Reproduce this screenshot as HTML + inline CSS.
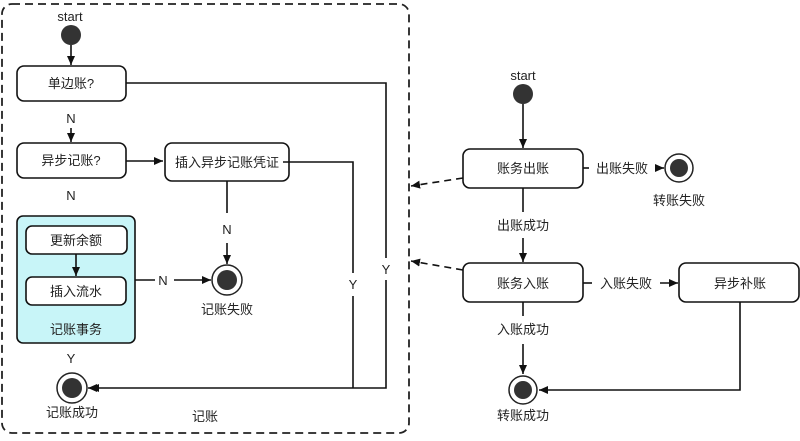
<!DOCTYPE html>
<html><head><meta charset="utf-8"><style>
html,body{margin:0;padding:0;background:#fff;}
svg text{font-family:"Liberation Sans","Noto Sans CJK SC",sans-serif;font-size:13px;fill:#222;text-anchor:middle;}
</style></head><body>
<svg width="800" height="436" viewBox="0 0 800 436" xmlns="http://www.w3.org/2000/svg">
<defs>
<marker id="a" markerWidth="10" markerHeight="10" refX="9" refY="5" orient="auto" markerUnits="userSpaceOnUse"><path d="M0,1 L9,5 L0,9 z" fill="#111"/></marker>
</defs>
<g stroke="#222" stroke-width="1.8" fill="none">
<rect x="2" y="4" width="407" height="429" rx="10" stroke-dasharray="8,5"/>
</g>
<text x="70" y="21">start</text>
<circle cx="71" cy="35" r="10" fill="#333"/>
<g stroke="#111" stroke-width="1.6" fill="none">
<line x1="71" y1="45" x2="71" y2="65" marker-end="url(#a)"/>
<rect x="17" y="66" width="109" height="35" rx="7" fill="#fff"/>
<line x1="71" y1="128" x2="71" y2="142" marker-end="url(#a)"/>
<rect x="17" y="143" width="109" height="35" rx="7" fill="#fff"/>
<line x1="126" y1="161" x2="163" y2="161" marker-end="url(#a)"/>
<rect x="165" y="143" width="124" height="38" rx="7" fill="#fff"/>
<rect x="17" y="216" width="118" height="127" rx="6" fill="#c8f5f8"/>
<rect x="26" y="226" width="101" height="28" rx="6" fill="#fff"/>
<line x1="76" y1="254" x2="76" y2="276" marker-end="url(#a)"/>
<rect x="26" y="277" width="100" height="28" rx="6" fill="#fff"/>
<line x1="135" y1="280" x2="155" y2="280"/>
<line x1="174" y1="280" x2="211" y2="280" marker-end="url(#a)"/>
<line x1="227" y1="181" x2="227" y2="213"/>
<line x1="227" y1="243" x2="227" y2="264" marker-end="url(#a)"/>
<polyline points="126,83 386,83 386,258"/>
<polyline points="386,280 386,388 88,388" marker-end="url(#a)"/>
<line x1="98" y1="388" x2="90" y2="388" marker-end="url(#a)"/>
<polyline points="283,162 353,162 353,273"/>
<line x1="353" y1="296" x2="353" y2="388"/>
</g>
<circle cx="227" cy="280" r="15" fill="#fff" stroke="#222" stroke-width="1.5"/>
<circle cx="227" cy="280" r="10" fill="#333"/>
<circle cx="72" cy="388" r="15" fill="#fff" stroke="#222" stroke-width="1.5"/>
<circle cx="72" cy="388" r="10" fill="#333"/>
<text x="71" y="88">单边账?</text>
<text x="71" y="123">N</text>
<text x="71" y="165">异步记账?</text>
<text x="71" y="200">N</text>
<text x="227" y="167">插入异步记账凭证</text>
<text x="76" y="245">更新余额</text>
<text x="76" y="296">插入流水</text>
<text x="76" y="334">记账事务</text>
<text x="71" y="363">Y</text>
<text x="163" y="285">N</text>
<text x="227" y="234">N</text>
<text x="227" y="314">记账失败</text>
<text x="386" y="274">Y</text>
<text x="353" y="289">Y</text>
<text x="72" y="417">记账成功</text>
<text x="205" y="421">记账</text>

<text x="523" y="80">start</text>
<circle cx="523" cy="94" r="10" fill="#333"/>
<g stroke="#111" stroke-width="1.6" fill="none">
<line x1="523" y1="104" x2="523" y2="148" marker-end="url(#a)"/>
<rect x="463" y="149" width="120" height="39" rx="7" fill="#fff"/>
<line x1="523" y1="188" x2="523" y2="212"/>
<line x1="523" y1="238" x2="523" y2="262" marker-end="url(#a)"/>
<rect x="463" y="263" width="120" height="39" rx="7" fill="#fff"/>
<line x1="523" y1="302" x2="523" y2="316"/>
<line x1="523" y1="344" x2="523" y2="374" marker-end="url(#a)"/>
<line x1="463" y1="178" x2="411" y2="186" stroke-dasharray="7,5" marker-end="url(#a)"/>
<line x1="463" y1="270" x2="411" y2="261" stroke-dasharray="7,5" marker-end="url(#a)"/>
<line x1="583" y1="168" x2="589" y2="168"/>
<line x1="656" y1="168" x2="664" y2="168" marker-end="url(#a)"/>
<line x1="583" y1="283" x2="592" y2="283"/>
<line x1="660" y1="283" x2="678" y2="283" marker-end="url(#a)"/>
<rect x="679" y="263" width="120" height="39" rx="7" fill="#fff"/>
<polyline points="740,302 740,390 539,390" marker-end="url(#a)"/>
</g>
<circle cx="679" cy="168" r="14" fill="#fff" stroke="#222" stroke-width="1.5"/>
<circle cx="679" cy="168" r="9" fill="#333"/>
<circle cx="523" cy="390" r="14" fill="#fff" stroke="#222" stroke-width="1.5"/>
<circle cx="523" cy="390" r="9" fill="#333"/>
<text x="523" y="173">账务出账</text>
<text x="622" y="173">出账失败</text>
<text x="679" y="205">转账失败</text>
<text x="523" y="230">出账成功</text>
<text x="523" y="288">账务入账</text>
<text x="626" y="288">入账失败</text>
<text x="740" y="288">异步补账</text>
<text x="523" y="334">入账成功</text>
<text x="523" y="420">转账成功</text>
</svg>
</body></html>
